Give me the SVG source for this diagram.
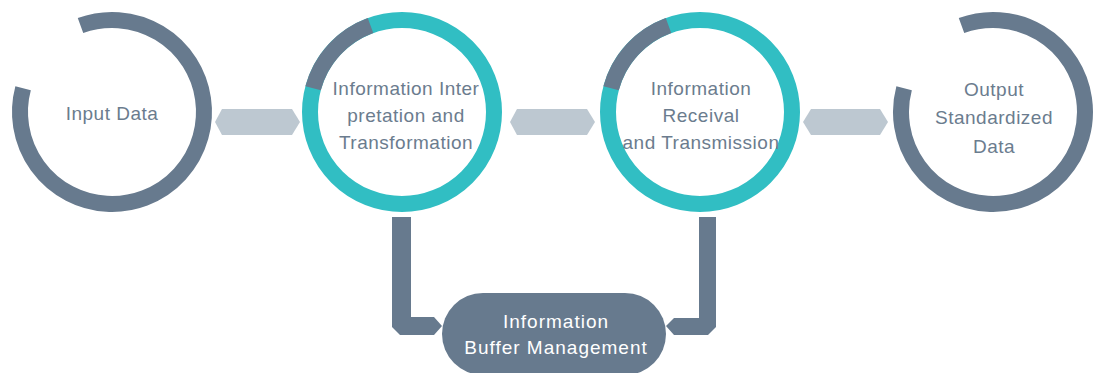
<svg xmlns="http://www.w3.org/2000/svg" width="1095" height="373" viewBox="0 0 1095 373">
  <style>
    .ring{fill:none;stroke-width:16}
    .dark{stroke:#677a8e}
    .teal{stroke:#31bec3}
    .lbl{font-family:"Liberation Sans",Arial,sans-serif;font-size:19px;fill:#6b7c8e;text-anchor:middle;dominant-baseline:central;letter-spacing:0.5px}
    .wlbl{font-family:"Liberation Sans",Arial,sans-serif;font-size:19px;fill:#ffffff;text-anchor:middle;dominant-baseline:central;letter-spacing:1px}
    .hex{fill:#bdc8d1}
    .bar{fill:#677a8e}
  </style>
  <rect width="1095" height="373" fill="#ffffff"/>
  <g id="connectors">
    <polygon class="hex" points="215,122 222,109 292,109 300,122 292,135 222,135"/>
    <polygon class="hex" points="510,122 517,109 587,109 595,122 587,135 517,135"/>
    <polygon class="hex" points="803,122 811,109 880,109 888,122 880,135 811,135"/>
    <polygon class="bar" points="392,217 411,217 411,317 434,317 442,326 434,335 400,335 392,327"/>
    <polygon class="bar" points="699,217 716,217 716,327 708,335 674,335 666,326 674,318 699,318"/>
  </g>
  <g id="node-input">
    <path class="ring dark" d="M 80.5 25.5 A 92 92 0 1 1 23.1 88.2"/>
    <text class="lbl" x="112" y="113">Input Data</text>
  </g>
  <g id="node-interpretation">
    <circle class="ring teal" cx="402" cy="112" r="92"/>
    <path class="ring dark" d="M 313.1 88.2 A 92 92 0 0 1 370.5 25.5"/>
    <text class="lbl" x="406" y="88">Information Inter</text>
    <text class="lbl" x="406" y="115">pretation and</text>
    <text class="lbl" x="406" y="142">Transformation</text>
  </g>
  <g id="node-receival">
    <circle class="ring teal" cx="700" cy="112" r="92"/>
    <path class="ring dark" d="M 611.1 88.2 A 92 92 0 0 1 668.5 25.5"/>
    <text class="lbl" x="701" y="88">Information</text>
    <text class="lbl" x="701" y="115">Receival</text>
    <text class="lbl" x="701" y="142">and Transmission</text>
  </g>
  <g id="node-output">
    <path class="ring dark" d="M 961.5 25.5 A 92 92 0 1 1 904.1 88.2"/>
    <text class="lbl" x="994" y="89">Output</text>
    <text class="lbl" x="994" y="117">Standardized</text>
    <text class="lbl" x="994" y="146">Data</text>
  </g>
  <g id="node-buffer">
    <rect x="442" y="293" width="224" height="82" rx="41" fill="#677a8e"/>
    <text class="wlbl" x="556" y="321">Information</text>
    <text class="wlbl" x="556" y="347">Buffer Management</text>
  </g>
</svg>
